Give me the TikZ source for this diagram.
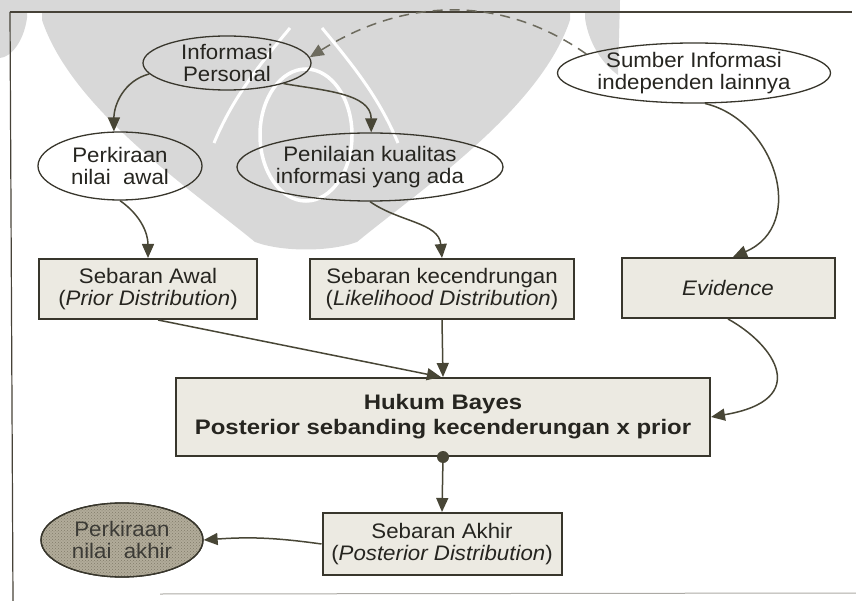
\documentclass[tikz,border=0pt]{standalone}
\usepackage{fontspec}
\setmainfont{Liberation Sans}[FakeStretch=1.06]
\newfontfamily\widebold{Liberation Sans}[FakeStretch=1.14]

\usetikzlibrary{arrows.meta,shapes.geometric,calc,patterns}

\definecolor{inkc}{RGB}{38,37,32}
\definecolor{linec}{RGB}{56,54,44}
\definecolor{arrowc}{RGB}{72,70,54}
\definecolor{boxfill}{RGB}{236,234,226}
\definecolor{wmark}{RGB}{216,216,216}
\definecolor{shadefill}{RGB}{178,172,154}
\definecolor{shadedots}{RGB}{128,122,106}
\definecolor{framec}{RGB}{70,66,56}

\begin{document}
\begin{tikzpicture}[x=1pt,y=1pt,
  every node/.style={font=\fontsize{21}{22.5}\selectfont, text=inkc, align=center},
  oval/.style={ellipse, draw=linec, line width=1.3pt, inner sep=0pt},
  box/.style={rectangle, draw=linec, line width=2pt, fill=boxfill, inner sep=0pt},
  flow/.style={draw=arrowc, line width=1.5pt, -{Triangle[length=14pt,width=12pt]}},
  hint/.style={draw=arrowc!80, line width=1.5pt, dash pattern=on 10pt off 7pt,
               -{Triangle[length=14pt,width=12pt]}},
]
\useasboundingbox (0,0) rectangle (856,-601);

% faint emblem in the background
\begin{scope}
  \fill[wmark] (0,0) rectangle (620,-12);
  \fill[wmark] (0,0) -- (27,0) -- (27,-18) .. controls (24,-40) and (12,-57) .. (0,-58) -- cycle;
  \fill[wmark] (612,0) -- (585,0) -- (585,-18) .. controls (588,-40) and (600,-62) .. (618,-75) -- (620,0) -- cycle;
  \fill[wmark] (42,0) -- (570,0) -- (570,-20)
      .. controls (540,-110) and (420,-190) .. (357,-242)
      .. controls (330,-252) and (282,-252) .. (255,-242)
      .. controls (192,-190) and (72,-110) .. (42,-20) -- cycle;
  \draw[white, line width=3.5pt] (306,-135) ellipse [x radius=46, y radius=66];
  \draw[white, line width=3pt] (290,-28) .. controls (255,-70) and (232,-100) .. (214,-143);
  \draw[white, line width=3pt] (322,-28) .. controls (357,-70) and (380,-100) .. (398,-143);
\end{scope}

% frame
\draw[framec, line width=1.2pt] (10,-12) -- (852,-12);
\draw[framec, line width=1.2pt] (10,-12) -- (13,-601);
\draw[framec!45, line width=1pt] (160,-594) -- (856,-593);

% nodes
\node[oval, minimum width=168pt, minimum height=54pt] (ip) at (227,-63) {Informasi\\Personal};
\node[oval, minimum width=238pt, minimum height=60pt] (src) at (694,-73) {Sumber Informasi\\independen lainnya};
\node[oval, minimum width=164pt, minimum height=68pt] (pa) at (120,-166) {Perkiraan\\nilai\ \ awal};
\node[oval, minimum width=236pt, minimum height=68pt] (pk) at (370,-167) {Penilaian kualitas\\informasi yang ada};

\node[box, minimum width=218pt, minimum height=60pt] (sa) at (148,-289) {Sebaran Awal\\(\textit{Prior Distribution})};
\node[box, minimum width=264pt, minimum height=60pt] (sk) at (442,-289) {Sebaran kecendrungan\\(\textit{Likelihood Distribution})};
\node[box, minimum width=213pt, minimum height=60pt] (ev) at (728,-288) {\textit{Evidence}};

\node[box, minimum width=534pt, minimum height=78pt,
      font=\widebold\fontsize{21}{25}\selectfont\bfseries] (hb) at (443,-417)
      {Hukum Bayes\\Posterior sebanding kecenderungan x prior};

\node[box, minimum width=239pt, minimum height=62pt] (sak) at (442,-544) {Sebaran Akhir\\(\textit{Posterior Distribution})};

\node[oval, fill=shadefill, minimum width=162pt, minimum height=74pt] (pnabg) at (122,-540) {};
\fill[pattern=crosshatch dots, pattern color=shadedots] (pnabg.center) ellipse [x radius=80, y radius=36];
\node[oval, minimum width=162pt, minimum height=74pt, text=inkc!90] (pna) at (122,-540) {Perkiraan\\nilai\ \ akhir};

% connectors
\draw[flow] (ip.188) to[out=195, in=90] (pa.100);
\draw[flow] (ip.340) to[out=-10, in=90] (pk.88);
\draw[hint] (src.170) to[out=145, in=32] (ip.4);
\draw[flow] (src.290) .. controls (775,-120) and (808,-225) .. ($(ev.north)+(5,0)$);
\draw[flow] (pa.south) to[out=-35, in=90] (sa.north);
\draw[flow] (pk.south) to[out=-35, in=95] (sk.north);
\draw[flow] (sa.288) -- (hb.93);
\draw[flow] (sk.south) -- (hb.north);
\draw[flow] (ev.south) .. controls (775,-345) and (812,-400) .. (hb.east);
\fill[arrowc] (hb.south) circle (6);
\draw[flow] (hb.south) -- (sak.north);
\draw[flow] (sak.west) to[bend right=6] (pna.east);
\end{tikzpicture}
\end{document}
